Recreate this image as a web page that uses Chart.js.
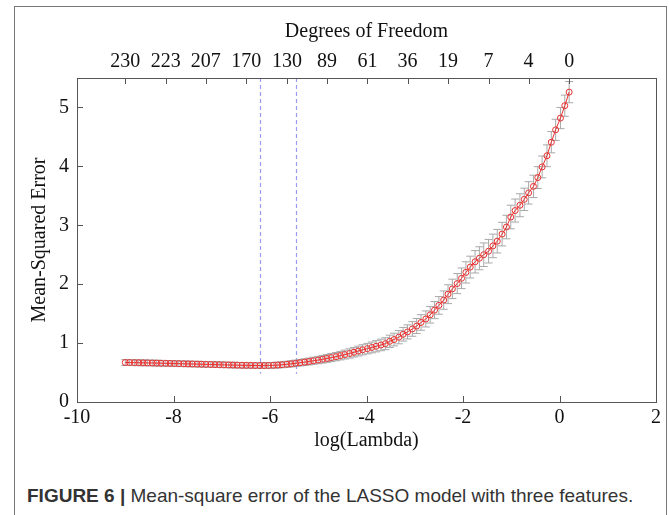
<!DOCTYPE html>
<html>
<head>
<meta charset="utf-8">
<script src="https://cdn.jsdelivr.net/npm/chart.js@4"></script>
<style>
  html, body { margin: 0; padding: 0; background: #fff; }
  body { width: 669px; height: 515px; position: relative; overflow: hidden; }
  #frame {
    position: absolute; left: 14px; top: 6px; width: 653px; height: 530px;
    border: 1.5px solid #777; border-bottom: none; box-sizing: border-box;
  }
  #chartWrap { position: absolute; left: 0; top: 0; width: 669px; height: 460px; }
  #caption {
    position: absolute; left: 27px; top: 485px;
    font-family: "Liberation Sans", Arial, sans-serif; font-size: 19px; color: #333;
    white-space: nowrap;
  }
  #caption b { color: #333; }
</style>
</head>
<body>
<div id="frame"></div>
<div id="chartWrap"><canvas id="mseChart" width="669" height="460"></canvas></div>
<div id="caption"><b>FIGURE 6 |</b> Mean-square error of the LASSO model with three features.</div>

<script>
// ===== Data =====
const logLambda = [
  -9.00, -8.91, -8.81, -8.72, -8.63, -8.54, -8.44, -8.35, -8.26, -8.16,
  -8.07, -7.98, -7.89, -7.79, -7.70, -7.61, -7.51, -7.42, -7.33, -7.23,
  -7.14, -7.05, -6.96, -6.86, -6.77, -6.68, -6.58, -6.49, -6.40, -6.31,
  -6.21, -6.12, -6.03, -5.93, -5.84, -5.75, -5.65, -5.56, -5.47, -5.38,
  -5.28, -5.19, -5.10, -5.00, -4.91, -4.82, -4.73, -4.63, -4.54, -4.45,
  -4.35, -4.26, -4.17, -4.08, -3.98, -3.89, -3.80, -3.70, -3.61, -3.52,
  -3.43, -3.33, -3.24, -3.15, -3.05, -2.96, -2.87, -2.77, -2.68, -2.59,
  -2.50, -2.40, -2.31, -2.22, -2.12, -2.03, -1.94, -1.85, -1.75, -1.66,
  -1.57, -1.47, -1.38, -1.29, -1.19, -1.10, -1.01, -0.92, -0.82, -0.73,
  -0.64, -0.54, -0.45, -0.36, -0.26, -0.17, -0.08, 0.02, 0.11, 0.20
];

const mse = [
  0.670, 0.670, 0.668, 0.667, 0.665, 0.664, 0.662, 0.660, 0.658, 0.656,
  0.655, 0.653, 0.651, 0.649, 0.647, 0.645, 0.643, 0.641, 0.639, 0.637,
  0.635, 0.633, 0.631, 0.629, 0.627, 0.625, 0.623, 0.622, 0.621, 0.620,
  0.619, 0.619, 0.620, 0.623, 0.627, 0.633, 0.640, 0.648, 0.657, 0.667,
  0.677, 0.688, 0.700, 0.712, 0.725, 0.739, 0.754, 0.770, 0.787, 0.805,
  0.824, 0.844, 0.865, 0.886, 0.906, 0.926, 0.946, 0.968, 0.990, 1.030,
  1.060, 1.100, 1.150, 1.190, 1.240, 1.290, 1.350, 1.410, 1.480, 1.560,
  1.640, 1.730, 1.830, 1.920, 2.010, 2.100, 2.200, 2.290, 2.380, 2.440,
  2.500, 2.560, 2.650, 2.730, 2.850, 2.970, 3.140, 3.250, 3.340, 3.440,
  3.550, 3.660, 3.810, 3.990, 4.180, 4.410, 4.620, 4.820, 5.030, 5.260
];

const mseSE = [
  0.050, 0.050, 0.050, 0.050, 0.050, 0.049, 0.049, 0.049, 0.049, 0.049,
  0.048, 0.048, 0.048, 0.048, 0.048, 0.048, 0.048, 0.048, 0.048, 0.048,
  0.048, 0.048, 0.048, 0.048, 0.048, 0.048, 0.048, 0.048, 0.048, 0.048,
  0.048, 0.048, 0.049, 0.049, 0.050, 0.051, 0.052, 0.053, 0.054, 0.055,
  0.057, 0.058, 0.060, 0.062, 0.064, 0.066, 0.068, 0.070, 0.072, 0.075,
  0.078, 0.080, 0.083, 0.086, 0.089, 0.092, 0.095, 0.098, 0.101, 0.104,
  0.108, 0.112, 0.116, 0.120, 0.124, 0.128, 0.132, 0.136, 0.140, 0.145,
  0.150, 0.155, 0.160, 0.165, 0.170, 0.175, 0.180, 0.185, 0.190, 0.195,
  0.200, 0.200, 0.200, 0.200, 0.200, 0.200, 0.200, 0.195, 0.195, 0.190,
  0.190, 0.190, 0.185, 0.185, 0.185, 0.180, 0.180, 0.180, 0.180, 0.180
];

// top axis: degrees of freedom at these log(Lambda) positions
const dfPositions = [-9.00, -8.16, -7.33, -6.49, -5.65, -4.82, -3.98, -3.15, -2.31, -1.47, -0.64, 0.20];
const dfLabels = [230, 223, 207, 170, 130, 89, 61, 36, 19, 7, 4, 0];

const xTicks = [-10, -8, -6, -4, -2, 0, 2];
const yTicks = [0, 1, 2, 3, 4, 5];

// dashed lines: Lambda min MSE and Lambda min + 1SE
const lambdaMarks = [-6.21, -5.47];
const lambdaMarkBottom = 0.48;

const serif = '"Liberation Serif", "Times New Roman", serif';

// ===== Error bars + reference lines =====
const errorBarPlugin = {
  id: 'errorBars',
  beforeDatasetsDraw(chart) {
    const { ctx, scales: { x, y } } = chart;
    ctx.save();

    // dashed lambda lines
    ctx.strokeStyle = '#9a9af2';
    ctx.lineWidth = 1.2;
    ctx.setLineDash([4, 3]);
    lambdaMarks.forEach(v => {
      const px = Math.round(x.getPixelForValue(v)) + 0.5;
      ctx.beginPath();
      ctx.moveTo(px, y.getPixelForValue(y.max));
      ctx.lineTo(px, y.getPixelForValue(lambdaMarkBottom));
      ctx.stroke();
    });
    ctx.setLineDash([]);

    // gray error bars with caps
    ctx.strokeStyle = '#a8a8a8';
    ctx.lineWidth = 1;
    logLambda.forEach((lx, i) => {
      const px = x.getPixelForValue(lx);
      const top = y.getPixelForValue(mse[i] + mseSE[i]);
      const bot = y.getPixelForValue(mse[i] - mseSE[i]);
      ctx.beginPath();
      ctx.moveTo(px, top); ctx.lineTo(px, bot);
      ctx.moveTo(px - 4, top); ctx.lineTo(px + 4, top);
      ctx.moveTo(px - 4, bot); ctx.lineTo(px + 4, bot);
      ctx.stroke();
    });
    ctx.restore();
  }
};

// ===== MATLAB-style box with inward ticks =====
const boxPlugin = {
  id: 'matlabBox',
  afterDraw(chart) {
    const { ctx, chartArea: a, scales } = chart;
    const tl = 6;
    ctx.save();
    ctx.strokeStyle = '#555';
    ctx.lineWidth = 1;
    ctx.strokeRect(Math.round(a.left) + 0.5, Math.round(a.top) + 0.5,
      Math.round(a.right - a.left), Math.round(a.bottom - a.top));

    ctx.beginPath();
    scales.x.ticks.forEach(t => {
      const px = Math.round(scales.x.getPixelForValue(t.value)) + 0.5;
      ctx.moveTo(px, a.bottom); ctx.lineTo(px, a.bottom - tl);
    });
    scales.xTop.ticks.forEach(t => {
      const px = Math.round(scales.xTop.getPixelForValue(t.value)) + 0.5;
      ctx.moveTo(px, a.top); ctx.lineTo(px, a.top + tl);
    });
    scales.y.ticks.forEach(t => {
      const py = Math.round(scales.y.getPixelForValue(t.value)) + 0.5;
      ctx.moveTo(a.left, py); ctx.lineTo(a.left + tl, py);
    });
    ctx.stroke();
    ctx.restore();
  }
};

const ctx = document.getElementById('mseChart').getContext('2d');

new Chart(ctx, {
  type: 'line',
  data: {
    datasets: [{
      data: logLambda.map((v, i) => ({ x: v, y: mse[i] })),
      borderColor: '#e8302f',
      borderWidth: 1,
      pointStyle: 'circle',
      pointRadius: 3,
      pointBorderWidth: 1,
      pointBorderColor: '#e8302f',
      pointBackgroundColor: 'rgba(0,0,0,0)',
      tension: 0,
      xAxisID: 'x',
      yAxisID: 'y'
    }]
  },
  options: {
    responsive: false,
    animation: false,
    layout: { padding: { left: 0, right: 13, top: 0, bottom: 0 } },
    plugins: {
      legend: { display: false },
      tooltip: { enabled: false }
    },
    scales: {
      x: {
        type: 'linear',
        position: 'bottom',
        min: -10,
        max: 2,
        afterBuildTicks: axis => { axis.ticks = xTicks.map(v => ({ value: v })); },
        afterFit: axis => { axis.height = 58; },
        grid: { display: false, drawTicks: false },
        border: { display: false },
        ticks: {
          padding: 4,
          maxRotation: 0,
          autoSkip: false,
          color: '#111',
          font: { family: serif, size: 20 }
        },
        title: {
          display: true,
          text: 'log(Lambda)',
          color: '#111',
          padding: { top: 0, bottom: 7 },
          font: { family: serif, size: 20 }
        }
      },
      xTop: {
        type: 'linear',
        position: 'top',
        min: -10,
        max: 2,
        afterBuildTicks: axis => { axis.ticks = dfPositions.map(v => ({ value: v })); },
        afterFit: axis => { axis.height = 78; },
        grid: { display: false, drawTicks: false },
        border: { display: false },
        ticks: {
          padding: 4,
          maxRotation: 0,
          autoSkip: false,
          color: '#111',
          font: { family: serif, size: 20 },
          callback: (value, index) => dfLabels[index]
        },
        title: {
          display: true,
          text: 'Degrees of Freedom',
          color: '#111',
          padding: { top: 20, bottom: 0 },
          font: { family: serif, size: 20 }
        }
      },
      y: {
        type: 'linear',
        position: 'left',
        min: 0,
        max: 5.5,
        afterBuildTicks: axis => { axis.ticks = yTicks.map(v => ({ value: v })); },
        afterFit: axis => { axis.width = 77; },
        grid: { display: false, drawTicks: false },
        border: { display: false },
        ticks: {
          padding: 8,
          color: '#111',
          font: { family: serif, size: 20 }
        },
        title: {
          display: true,
          text: 'Mean-Squared Error',
          color: '#111',
          padding: { top: 28, bottom: 0 },
          font: { family: serif, size: 20 }
        }
      }
    }
  },
  plugins: [errorBarPlugin, boxPlugin]
});
</script>
</body>
</html>
